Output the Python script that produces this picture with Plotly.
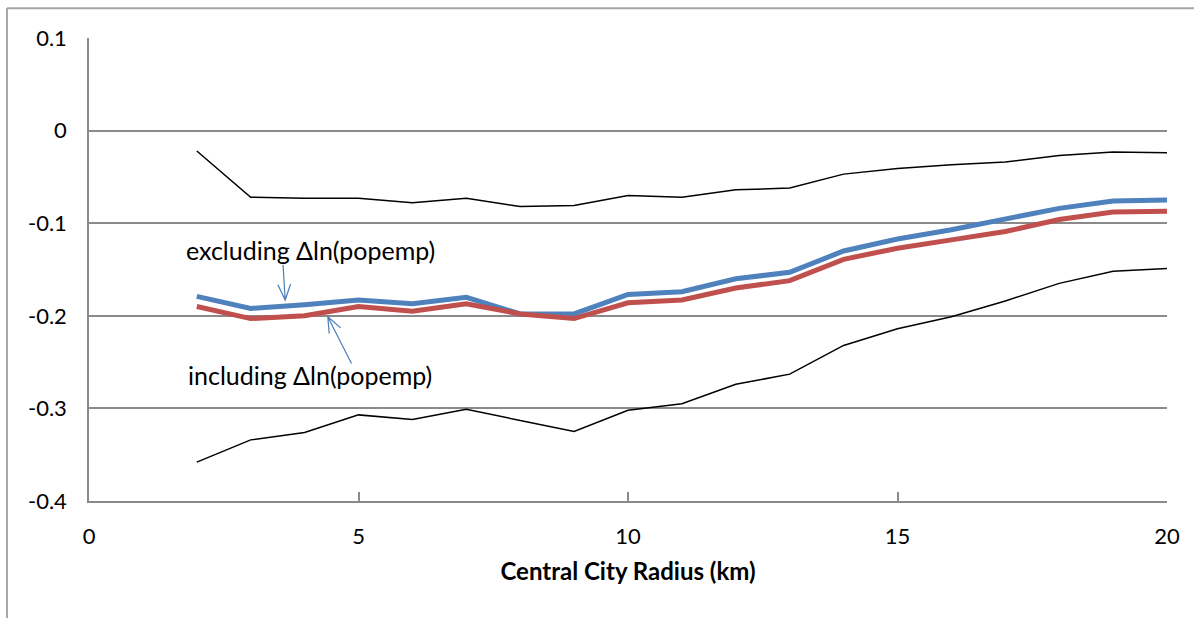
import math
import plotly.graph_objects as go

# Central city radius (km)
radius = list(range(2, 21))

# Estimates excluding / including the change in ln(popemp)
excluding = [-0.179, -0.192, -0.188, -0.183, -0.187, -0.180, -0.198, -0.198,
             -0.177, -0.174, -0.160, -0.153, -0.130, -0.117, -0.107, -0.096,
             -0.084, -0.076, -0.075]
including = [-0.190, -0.203, -0.200, -0.190, -0.195, -0.187, -0.198, -0.203,
             -0.186, -0.183, -0.170, -0.162, -0.139, -0.127, -0.118, -0.109,
             -0.096, -0.088, -0.087]

# Confidence band bounds
upper = [-0.022, -0.072, -0.073, -0.073, -0.078, -0.073, -0.082, -0.081,
         -0.070, -0.072, -0.064, -0.062, -0.047, -0.041, -0.037, -0.034,
         -0.027, -0.023, -0.024]
lower = [-0.358, -0.334, -0.326, -0.307, -0.312, -0.301, -0.313, -0.325,
         -0.302, -0.295, -0.274, -0.263, -0.232, -0.214, -0.201, -0.184,
         -0.165, -0.152, -0.149]

x_ticks = [0, 5, 10, 15, 20]
y_ticks = [0.1, 0, -0.1, -0.2, -0.3, -0.4]
y_tick_text = ["0.1", "0", "-0.1", "-0.2", "-0.3", "-0.4"]

FONT = "Lato"
GRID = "#8a8a8a"
ARROW = "#4a7ebb"

W, H = 1194, 618
M_L, M_R, M_T, M_B = 89, 27, 38, 117
X_RANGE = [0, 20]
Y_RANGE = [-0.4, 0.1]
PX_X = (W - M_L - M_R) / (X_RANGE[1] - X_RANGE[0])
PX_Y = (H - M_T - M_B) / (Y_RANGE[1] - Y_RANGE[0])

fig = go.Figure()
fig.add_trace(go.Scatter(x=radius, y=upper, mode="lines",
                         line=dict(color="black", width=1.5)))
fig.add_trace(go.Scatter(x=radius, y=excluding, mode="lines",
                         line=dict(color="#4f81bd", width=5)))
fig.add_trace(go.Scatter(x=radius, y=including, mode="lines",
                         line=dict(color="#c0504d", width=5)))
fig.add_trace(go.Scatter(x=radius, y=lower, mode="lines",
                         line=dict(color="black", width=1.5)))

fig.update_layout(
    width=W, height=H,
    margin=dict(l=M_L, r=M_R, t=M_T, b=M_B),
    paper_bgcolor="white", plot_bgcolor="white",
    showlegend=False,
    font=dict(family=FONT, color="black", size=22),
    xaxis=dict(
        range=X_RANGE, tickvals=x_ticks, ticks="inside", ticklen=9,
        tickcolor=GRID, tickwidth=1.5,
        showline=True, linecolor=GRID, linewidth=1.5,
        showgrid=False, zeroline=False,
        ticklabelstandoff=15,
        tickfont=dict(family=FONT, size=22, color="black"),
        title=dict(text="<b>Central City Radius (km)</b>",
                   font=dict(family=FONT, size=24, color="black"),
                   standoff=15),
    ),
    yaxis=dict(
        range=Y_RANGE, tickvals=y_ticks, ticktext=y_tick_text,
        ticks="", showline=True, linecolor=GRID, linewidth=1.5,
        showgrid=True, gridcolor=GRID, gridwidth=1.5,
        zeroline=False, ticklabelstandoff=16,
        tickfont=dict(family=FONT, size=22, color="black"),
    ),
)

# Series labels
fig.add_annotation(x=1.76, y=-0.129, xref="x", yref="y",
                   text="excluding Δln(popemp)", showarrow=False,
                   xanchor="left", yanchor="middle",
                   font=dict(family=FONT, size=25, color="black"))
fig.add_annotation(x=1.80, y=-0.264, xref="x", yref="y",
                   text="including Δln(popemp)", showarrow=False,
                   xanchor="left", yanchor="middle",
                   font=dict(family=FONT, size=25, color="black"))


def pointer(tail, tip, head_len=17, half_angle=22):
    """Thin line arrow with an open V head, built in screen-space pixels."""
    tx, ty = tail
    hx, hy = tip
    # direction from tip back toward tail, in pixels (screen y grows downward)
    dx = (tx - hx) * PX_X
    dy = -(ty - hy) * PX_Y
    ang = math.atan2(dy, dx)
    arms = []
    for s in (1, -1):
        a = ang + s * math.radians(half_angle)
        ex = hx + head_len * math.cos(a) / PX_X
        ey = hy - head_len * math.sin(a) / PX_Y
        arms.append((ex, ey))
    path = (f"M{tx},{ty} L{hx},{hy} "
            f"M{arms[0][0]},{arms[0][1]} L{hx},{hy} L{arms[1][0]},{arms[1][1]}")
    fig.add_shape(type="path", xref="x", yref="y", path=path,
                  line=dict(color=ARROW, width=1.2))


# Pointer arrows from labels to their lines
pointer((3.60, -0.145), (3.64, -0.183))
pointer((4.87, -0.2515), (4.43, -0.201))

# Chart-area border (top and left edges)
fig.add_shape(type="line", xref="paper", yref="paper",
              x0=-0.0761, x1=1.2, y0=1.064, y1=1.064,
              line=dict(color="#a6a6a6", width=2))
fig.add_shape(type="line", xref="paper", yref="paper",
              x0=-0.0761, x1=-0.0761, y0=1.064, y1=-0.4,
              line=dict(color="#a6a6a6", width=2))

fig.write_html("out.html")
